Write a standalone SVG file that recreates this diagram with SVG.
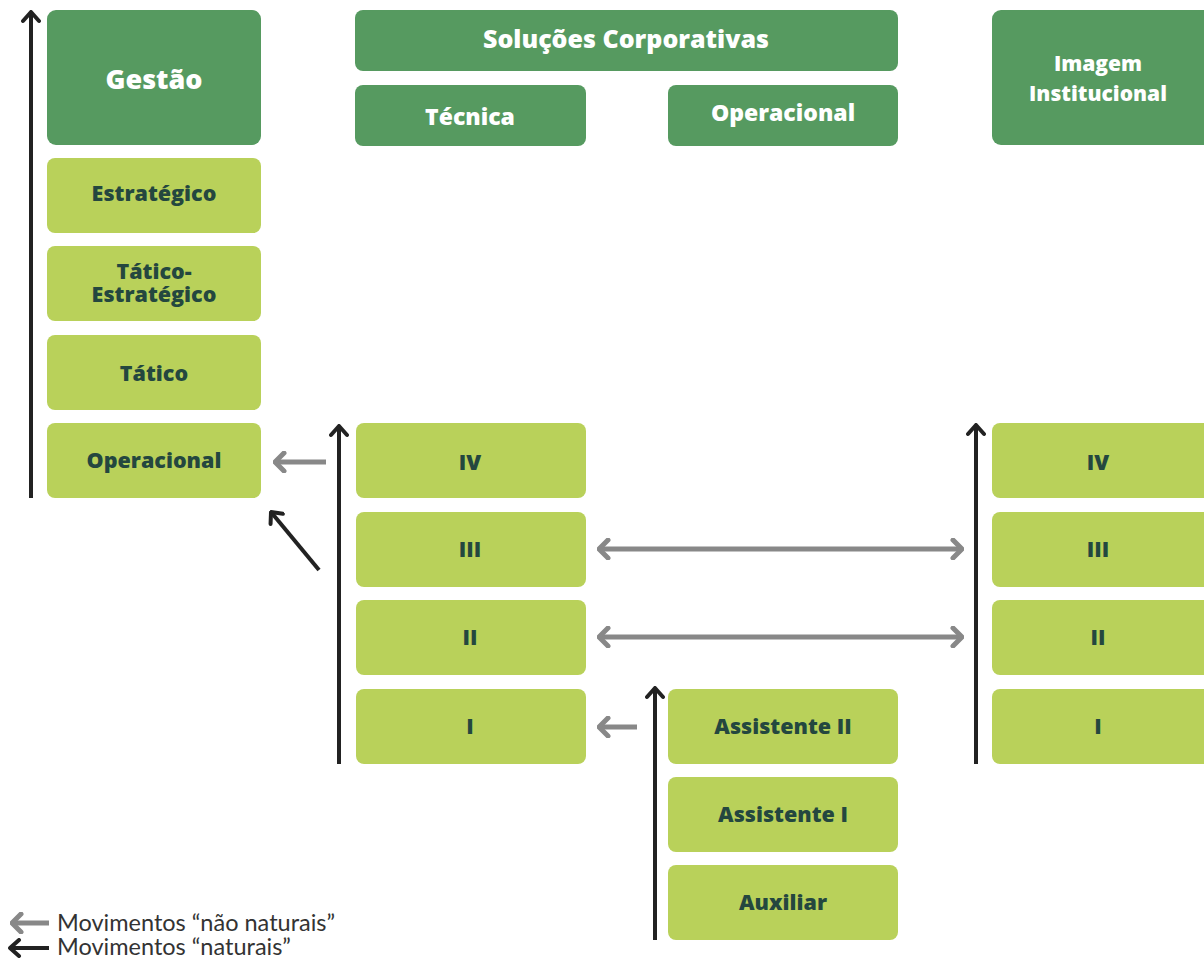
<svg xmlns="http://www.w3.org/2000/svg" width="1204" height="962" viewBox="0 0 1204 962">
  <style>
    .hd { fill: #569a60; }
    .lv { fill: #b9d15a; }
    .th { font-family: "Open Sans", "Noto Sans", "Liberation Sans", sans-serif; font-weight: 800; fill: #ffffff; text-anchor: middle; }
    .tl { font-family: "Open Sans", "Noto Sans", "Liberation Sans", sans-serif; font-weight: 800; fill: #24473f; text-anchor: middle; font-size: 21.5px; }
    .nat { stroke: #222; stroke-width: 4; fill: none; }
    .unn { stroke: #888; stroke-width: 5; fill: none; }
    .leg { font-family: Lato, "Open Sans", "Liberation Sans", sans-serif; font-size: 23.5px; fill: #333; }
  </style>
  <defs>
    <marker id="hk" viewBox="0 0 14 20" refX="12" refY="10" markerWidth="14" markerHeight="20" markerUnits="userSpaceOnUse" orient="auto-start-reverse">
      <path d="M3,2 L12,10 L3,18" fill="none" stroke="#222" stroke-width="4" stroke-linecap="round" stroke-linejoin="round"/>
    </marker>
    <marker id="hg" viewBox="0 0 14 22" refX="12" refY="11" markerWidth="14" markerHeight="22" markerUnits="userSpaceOnUse" orient="auto-start-reverse">
      <path d="M3,2 L12,11 L3,20" fill="none" stroke="#888" stroke-width="5" stroke-linecap="round" stroke-linejoin="round"/>
    </marker>
  </defs>
  <rect width="1204" height="962" fill="#ffffff"/>

  <!-- Gestão column -->
  <g id="gestao"><rect class="hd" x="47" y="10" width="214" height="135" rx="9"/><text class="th" x="154" y="89" font-size="27">Gestão</text></g>
  <g id="estrategico"><rect class="lv" x="47" y="158" width="214" height="75" rx="8"/><text class="tl" x="154" y="201">Estratégico</text></g>
  <g id="tatico-estrategico"><rect class="lv" x="47" y="246" width="214" height="75" rx="8"/><text class="tl"><tspan x="154" y="279">Tático-</tspan><tspan x="154" y="302">Estratégico</tspan></text></g>
  <g id="tatico"><rect class="lv" x="47" y="335" width="214" height="75" rx="8"/><text class="tl" x="154" y="381">Tático</text></g>
  <g id="gestao-operacional"><rect class="lv" x="47" y="423" width="214" height="75" rx="8"/><text class="tl" x="154" y="468">Operacional</text></g>

  <!-- Soluções Corporativas -->
  <g id="solucoes"><rect class="hd" x="355" y="10" width="543" height="61" rx="8"/><text class="th" x="626" y="48" font-size="25">Soluções Corporativas</text></g>
  <g id="tecnica"><rect class="hd" x="355" y="85" width="231" height="61" rx="8"/><text class="th" x="470" y="125" font-size="23">Técnica</text></g>
  <g id="operacional"><rect class="hd" x="668" y="85" width="230" height="61" rx="8"/><text class="th" x="783" y="121" font-size="23">Operacional</text></g>

  <!-- Técnica levels -->
  <g id="tec-iv"><rect class="lv" x="356" y="423" width="230" height="75" rx="8"/><text class="tl" x="470" y="470">IV</text></g>
  <g id="tec-iii"><rect class="lv" x="356" y="512" width="230" height="75" rx="8"/><text class="tl" x="470" y="557">III</text></g>
  <g id="tec-ii"><rect class="lv" x="356" y="600" width="230" height="75" rx="8"/><text class="tl" x="470" y="645">II</text></g>
  <g id="tec-i"><rect class="lv" x="356" y="689" width="230" height="75" rx="8"/><text class="tl" x="470" y="734">I</text></g>

  <!-- Operacional levels -->
  <g id="assistente-ii"><rect class="lv" x="668" y="689" width="230" height="75" rx="8"/><text class="tl" x="783" y="734">Assistente II</text></g>
  <g id="assistente-i"><rect class="lv" x="668" y="777" width="230" height="75" rx="8"/><text class="tl" x="783" y="822">Assistente I</text></g>
  <g id="auxiliar"><rect class="lv" x="668" y="865" width="230" height="75" rx="8"/><text class="tl" x="783" y="910">Auxiliar</text></g>

  <!-- Imagem Institucional -->
  <g id="imagem"><rect class="hd" x="992" y="10" width="220" height="135" rx="9"/><text class="th" font-size="21"><tspan x="1098" y="71">Imagem</tspan><tspan x="1098" y="101">Institucional</tspan></text></g>
  <g id="img-iv"><rect class="lv" x="992" y="423" width="220" height="75" rx="8"/><text class="tl" x="1098" y="470">IV</text></g>
  <g id="img-iii"><rect class="lv" x="992" y="512" width="220" height="75" rx="8"/><text class="tl" x="1098" y="557">III</text></g>
  <g id="img-ii"><rect class="lv" x="992" y="600" width="220" height="75" rx="8"/><text class="tl" x="1098" y="645">II</text></g>
  <g id="img-i"><rect class="lv" x="992" y="689" width="220" height="75" rx="8"/><text class="tl" x="1098" y="734">I</text></g>

  <!-- movements -->
  <g id="connectors">
    <line class="nat" x1="31" y1="498" x2="31" y2="12" marker-end="url(#hk)"/>
    <line class="nat" x1="339" y1="764" x2="339" y2="426" marker-end="url(#hk)"/>
    <line class="nat" x1="655" y1="940" x2="655" y2="688" marker-end="url(#hk)"/>
    <line class="nat" x1="976" y1="764" x2="976" y2="425" marker-end="url(#hk)"/>
    <line class="nat" x1="319" y1="570" x2="271" y2="512" marker-end="url(#hk)"/>
    <line class="unn" x1="326" y1="462" x2="275" y2="462" marker-end="url(#hg)"/>
    <line class="unn" x1="599" y1="549" x2="962" y2="549" marker-start="url(#hg)" marker-end="url(#hg)"/>
    <line class="unn" x1="599" y1="637" x2="962" y2="637" marker-start="url(#hg)" marker-end="url(#hg)"/>
    <line class="unn" x1="637" y1="727" x2="599" y2="727" marker-end="url(#hg)"/>
  </g>

  <!-- legend -->
  <g id="legend">
    <line class="unn" x1="49" y1="923" x2="12" y2="923" stroke-width="4" marker-end="url(#hg)"/>
    <line class="nat" x1="49" y1="948" x2="10" y2="948" marker-end="url(#hk)"/>
    <text class="leg"><tspan x="57" y="931">Movimentos “não naturais”</tspan><tspan x="57" y="955">Movimentos “naturais”</tspan></text>
  </g>
</svg>
